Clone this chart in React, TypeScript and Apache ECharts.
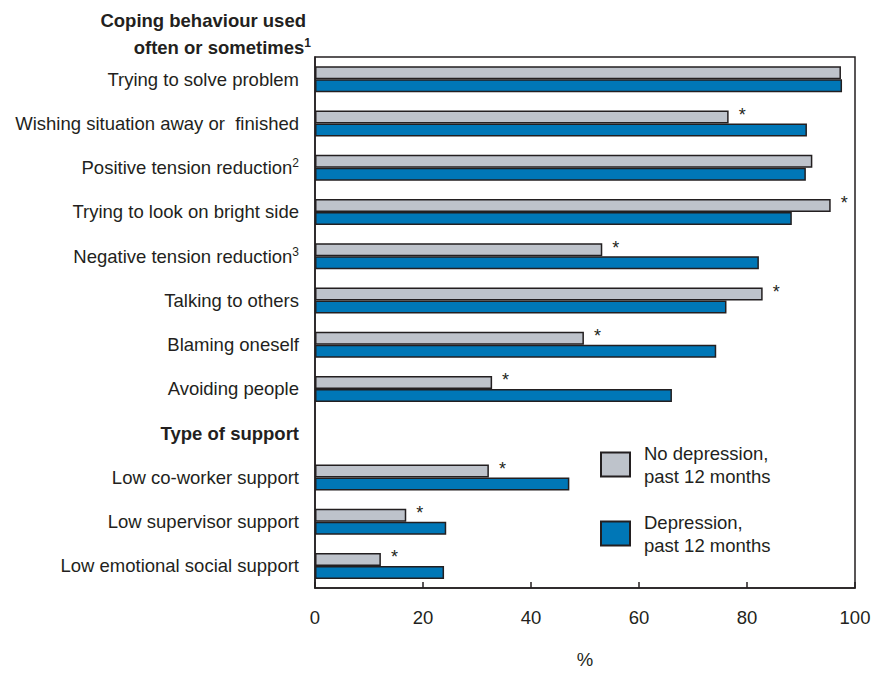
import React, { useEffect, useRef } from "react";
import * as echarts from "echarts";

// Rows from top to bottom; the empty-valued row is the "Type of support" section heading.
const categories = [
  "Trying to solve problem",
  "Wishing situation away or  finished",
  "Positive tension reduction",
  "Trying to look on bright side",
  "Negative tension reduction",
  "Talking to others",
  "Blaming oneself",
  "Avoiding people",
  "Type of support",
  "Low co-worker support",
  "Low supervisor support",
  "Low emotional social support",
];
// Footnote markers shown as superscripts after some row labels.
const footnotes = ["", "", "2", "", "3", "", "", "", "", "", "", ""];
const sectionRows = [8];

const noDepression = [97.4, 76.6, 92.1, 95.5, 53.2, 82.9, 49.8, 32.8, null, 32.2, 16.9, 12.2];
const depression = [97.6, 91.1, 90.9, 88.3, 82.2, 76.2, 74.3, 66.1, null, 47.1, 24.3, 23.9];
// Significant difference from the depression group (marked with *).
const significant = [false, true, false, true, true, true, true, true, false, true, true, true];

const xTicks = [0, 20, 40, 60, 80, 100];

const FONT = "'Liberation Sans', Arial, Helvetica, sans-serif";
const FS = 18.5;
const INK = "#231f20";
const GREY = "#bec3cb";
const BLUE = "#0077b7";

export default function App() {
  const ref = useRef<HTMLDivElement>(null);

  useEffect(() => {
    if (!ref.current) return;
    const chart = echarts.init(ref.current, null, { renderer: "svg" });

    const barBase = {
      type: "bar" as const,
      barWidth: 13,
      barGap: "0%",
    };

    chart.setOption({
      animation: false,
      textStyle: { fontFamily: FONT },
      grid: {
        left: 315,
        right: 24,
        top: 57,
        bottom: 78,
        show: true,
        borderColor: INK,
        borderWidth: 1.5,
        backgroundColor: "transparent",
      },
      legend: {
        orient: "vertical",
        left: 600,
        top: 437,
        padding: 0,
        itemWidth: 29,
        itemHeight: 24,
        itemGap: 14,
        selectedMode: false,
        icon: "rect",
        formatter: (name: string) => name.replace(", ", ",\n"),
        textStyle: {
          fontFamily: FONT,
          fontSize: FS,
          color: INK,
          lineHeight: 23,
          padding: [9, 0, 0, 9],
        },
        data: ["No depression, past 12 months", "Depression, past 12 months"],
      },
      xAxis: {
        type: "value",
        min: xTicks[0],
        max: xTicks[xTicks.length - 1],
        interval: 20,
        name: "%",
        nameLocation: "middle",
        nameGap: 62,
        nameTextStyle: { fontFamily: FONT, fontSize: FS, color: INK },
        axisLine: { show: true, lineStyle: { color: INK, width: 1.5 } },
        axisTick: { show: true, inside: true, length: 6, lineStyle: { color: INK, width: 1.5 } },
        axisLabel: { fontFamily: FONT, fontSize: FS, color: INK, margin: 20 },
        splitLine: { show: false },
      },
      yAxis: {
        type: "category",
        inverse: true,
        data: categories,
        axisLine: { show: true, lineStyle: { color: INK, width: 1.5 } },
        axisTick: { show: false },
        axisLabel: {
          margin: 16,
          formatter: (value: string, index: number) => {
            if (sectionRows.includes(index)) return `{h|${value}}`;
            const fn = footnotes[index];
            return fn ? `{n|${value}}{s|${fn}}` : `{n|${value}}`;
          },
          rich: {
            n: { fontFamily: FONT, fontSize: FS, color: INK },
            h: { fontFamily: FONT, fontSize: FS, color: INK, fontWeight: "bold" },
            s: { fontFamily: FONT, fontSize: 12, color: INK, padding: [0, 0, 9, 0] },
          },
        },
      },
      series: [
        {
          ...barBase,
          name: "No depression, past 12 months",
          color: GREY,
          itemStyle: { color: GREY, borderColor: INK, borderWidth: 1.5 },
          data: noDepression.map((v, i) => ({
            value: v,
            label: {
              show: significant[i],
              position: "right",
              distance: 10,
              offset: [0, -2],
              formatter: "*",
              fontFamily: FONT,
              fontSize: 18,
              color: INK,
            },
          })),
        },
        {
          ...barBase,
          name: "Depression, past 12 months",
          color: BLUE,
          itemStyle: { color: BLUE, borderColor: INK, borderWidth: 1.5 },
          data: depression,
        },
      ],
      graphic: [
        {
          type: "text",
          right: 879 - 306,
          top: 11,
          style: {
            text: "Coping behaviour used",
            fontFamily: FONT,
            fontSize: FS,
            fontWeight: "bold",
            fill: INK,
          },
        },
        {
          type: "text",
          right: 879 - 311,
          top: 37,
          style: {
            text: "{b|often or sometimes}{s|1}",
            fontFamily: FONT,
            rich: {
              b: { fontFamily: FONT, fontSize: FS, fontWeight: "bold", fill: INK },
              s: { fontFamily: FONT, fontSize: 12, fontWeight: "bold", fill: INK, padding: [0, 0, 9, 0] },
            },
          },
        },
      ],
    });

    return () => chart.dispose();
  }, []);

  return <div ref={ref} style={{ width: 879, height: 674, position: "absolute", left: 0, top: 0 }} />;
}
